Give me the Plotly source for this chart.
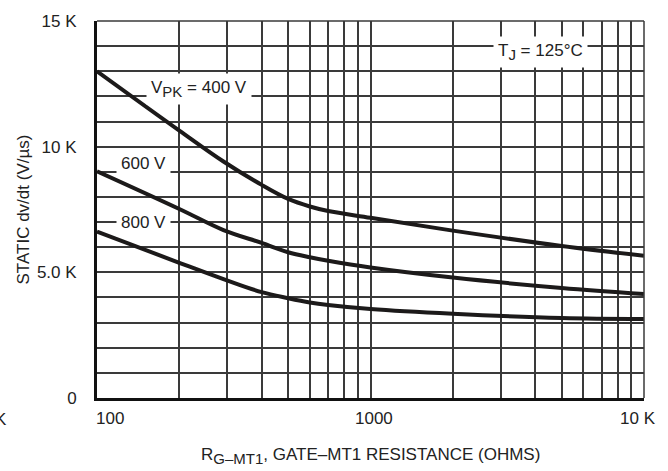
import math
import plotly.graph_objects as go

# ---- data ----
resistance = [100, 200, 290, 400, 500, 600, 700, 1000, 2000, 5000, 10000]
dvdt_400v = [13000, 10640, 9410, 8480, 7920, 7620, 7440, 7170, 6660, 6050, 5660]
dvdt_600v = [9020, 7520, 6680, 6170, 5800, 5600, 5460, 5190, 4790, 4380, 4140]
dvdt_800v = [6620, 5380, 4730, 4210, 3970, 3800, 3700, 3540, 3350, 3180, 3140]

x_tick_vals = [100, 1000, 10000]
x_tick_text = ["100", "1000", "10 K"]
x_minor_vals = [200, 300, 400, 500, 600, 700, 800, 900,
                2000, 3000, 4000, 5000, 6000, 7000, 8000, 9000]
y_tick_vals = [0, 5000, 10000, 15000]
y_tick_text = ["0", "5.0 K", "10 K", "15 K"]

SUB = '<sub><span style="font-size:15px">{}</span></sub>'
curve_labels = ["V" + SUB.format("PK") + " = 400 V", "600 V", "800 V",
                "T" + SUB.format("J") + " = 125°C"]
label_x = [236, 148, 148, 4180]
label_y = [12300, 9350, 7000, 13750]

x_title = "R" + SUB.format("G–MT1") + ", GATE–MT1 RESISTANCE (OHMS)"
y_title = "STATIC dv/dt (V/µs)"

# ---- style ----
FONT = "Liberation Sans, Arial, sans-serif"
TXT = "#222"
GRID = "#3a3a3a"
W, H = 668, 471
ML, MR, MT, MB = 97, 24, 14, 73

fig = go.Figure()
for ys in (dvdt_400v, dvdt_600v, dvdt_800v):
    fig.add_trace(go.Scatter(x=resistance, y=ys, mode="lines",
                             line=dict(color="#1c1a1a", width=4, shape="spline", smoothing=1.0),
                             showlegend=False, hoverinfo="skip"))

annotations = []
# log axis: annotation x is given in log10 units
for t, xv, yv in zip(curve_labels, label_x, label_y):
    annotations.append(dict(x=math.log10(xv), y=yv, xref="x", yref="y", text=t, showarrow=False,
                            font=dict(family=FONT, size=17, color=TXT),
                            bgcolor="white", borderpad=4, xanchor="center", yanchor="middle"))

x_label_shift = [13, 3, -6]
for xv, t, sh in zip(x_tick_vals, x_tick_text, x_label_shift):
    annotations.append(dict(x=math.log10(xv), y=0, xref="x", yref="paper", text=t, showarrow=False,
                            font=dict(family=FONT, size=17, color=TXT),
                            xanchor="center", yanchor="middle", yshift=-20, xshift=sh))

# axis titles
annotations.append(dict(x=0.5, y=0, xref="paper", yref="paper",
                        text=x_title, showarrow=False,
                        font=dict(family=FONT, size=17, color=TXT),
                        xanchor="center", yanchor="middle", yshift=-58))
annotations.append(dict(x=0, y=0.5, xref="paper", yref="paper",
                        text=y_title, showarrow=False, textangle=-90,
                        font=dict(family=FONT, size=17, color=TXT),
                        xanchor="center", yanchor="middle", xshift=-74, yshift=0))
# cropped label remnant at far left
annotations.append(dict(x=0, y=0, xref="paper", yref="paper", text="K", showarrow=False,
                        font=dict(family=FONT, size=17, color=TXT),
                        xanchor="left", yanchor="middle", xshift=-104, yshift=-21))

fig.update_layout(
    width=W, height=H,
    margin=dict(l=ML, r=MR, t=MT, b=MB),
    paper_bgcolor="white", plot_bgcolor="white",
    annotations=annotations,
    shapes=[
        dict(type="line", xref="paper", yref="paper", x0=0, x1=1, y0=1, y1=1,
             line=dict(color=GRID, width=1.5)),
        dict(type="line", xref="paper", yref="paper", x0=1, x1=1, y0=0, y1=1,
             line=dict(color=GRID, width=1.5)),
    ],
    xaxis=dict(type="log", range=[2, 4], tickvals=x_tick_vals, ticktext=x_tick_text,
               showticklabels=False, ticks="", showgrid=True, gridcolor=GRID, gridwidth=1.5,
               minor=dict(tickvals=x_minor_vals, showgrid=True, gridcolor=GRID, gridwidth=1.5, ticks=""),
               showline=True, linecolor="#111", linewidth=3, zeroline=False),
    yaxis=dict(range=[0, 15000], tickvals=y_tick_vals, ticktext=y_tick_text,
               tickfont=dict(family=FONT, size=17, color=TXT), ticks="",
               ticklabelstandoff=14,
               showgrid=True, gridcolor=GRID, gridwidth=1.5,
               minor=dict(dtick=1000, showgrid=True, gridcolor=GRID, gridwidth=1.5, ticks=""),
               showline=True, linecolor="#111", linewidth=3, zeroline=False),
)

fig.write_html("out.html", config={"displayModeBar": False},
               post_script="document.body.style.margin='0';document.body.style.padding='0';")
